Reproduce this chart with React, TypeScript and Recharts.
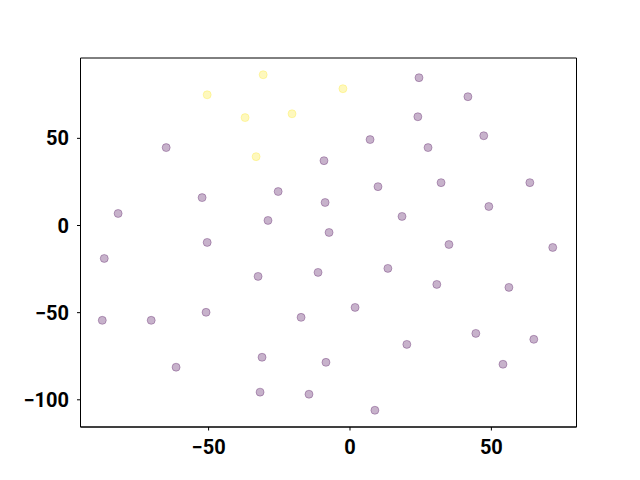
import React from 'react';
import { ScatterChart, Scatter, XAxis, YAxis, ReferenceArea } from 'recharts';

const yellowX = [-50.5, -30.7, -37.1, -20.5, -2.5, -33.2];
const yellowY = [75.0, 86.5, 61.9, 64.1, 78.5, 39.5];

const purpleX = [24.4, 41.7, 24.0, 47.3, 7.1, 27.6, -65.0, -9.2, 32.2, 63.6, 9.9, -25.4, -52.3, -82.0, -8.8, 49.1, 18.4, -29.0, -7.4, -50.5, 35.0, 71.7, -86.9, 13.4, -11.3, -32.5, 30.7, 56.2, 1.8, -50.9, -87.6, -70.3, -17.3, 44.5, 20.1, 65.0, -31.1, -8.5, 54.1, -61.5, -31.8, -14.5, 8.8];
const purpleY = [84.8, 73.9, 62.4, 51.5, 49.3, 44.7, 44.7, 37.2, 24.6, 24.6, 22.3, 19.5, 16.0, 6.9, 13.2, 10.9, 5.2, 2.9, -4.0, -9.7, -10.9, -12.6, -18.9, -24.6, -26.9, -29.2, -33.8, -35.5, -47.0, -49.8, -54.4, -54.4, -52.7, -61.9, -68.2, -65.3, -75.6, -78.5, -79.6, -81.3, -95.6, -96.8, -106.0];

const xTicks = [-50, 0, 50];
const yTicks = [-100, -50, 0, 50];
const xDomain = [-95.3, 80.1];
const yDomain = [-115.6, 96.1];

const PURPLE = '#440154';
const YELLOW = '#fde725';

const purpleData = purpleX.map((x, i) => ({ x, y: purpleY[i] }));
const yellowData = yellowX.map((x, i) => ({ x, y: yellowY[i] }));

const makeShape = (color: string) => (props: any) => (
  <circle cx={props.cx} cy={props.cy} r={4} fill={color} fillOpacity={0.3} stroke={color} strokeOpacity={0.3} strokeWidth={1} />
);

const fmt = (v: number) => (v < 0 ? '\u2212' + Math.abs(v) : String(v));

const tickStyle = { fontFamily: 'Roboto', fontWeight: 'bold', fontSize: 20, fill: '#000' };

export default function App() {
  return (
    <div style={{ position: 'absolute', left: 0, top: 0, width: 640, height: 480, background: '#fff' }}>
      <ScatterChart width={640} height={480} margin={{ top: 58, right: 63.5, bottom: 0, left: 0 }}>
        <XAxis
          type="number"
          dataKey="x"
          domain={xDomain}
          ticks={xTicks}
          allowDataOverflow
          height={53}
          tickSize={3.5}
          tickMargin={9}
          tickFormatter={fmt}
          tick={tickStyle}
          stroke="#000"
          axisLine={{ stroke: '#000', strokeWidth: 1 }}
          tickLine={{ stroke: '#000', strokeWidth: 1 }}
        />
        <YAxis
          type="number"
          dataKey="y"
          domain={yDomain}
          ticks={yTicks}
          allowDataOverflow
          width={80.5}
          tickSize={3.5}
          tickMargin={8}
          tickFormatter={fmt}
          tick={tickStyle}
          stroke="#000"
          axisLine={{ stroke: '#000', strokeWidth: 1 }}
          tickLine={{ stroke: '#000', strokeWidth: 1 }}
        />
        <ReferenceArea x1={xDomain[0]} x2={xDomain[1]} y1={yDomain[0]} y2={yDomain[1]} fill="none" stroke="#000" strokeWidth={1} strokeOpacity={1} fillOpacity={0} />
        <Scatter data={purpleData} shape={makeShape(PURPLE)} isAnimationActive={false} />
        <Scatter data={yellowData} shape={makeShape(YELLOW)} isAnimationActive={false} />
      </ScatterChart>
    </div>
  );
}
